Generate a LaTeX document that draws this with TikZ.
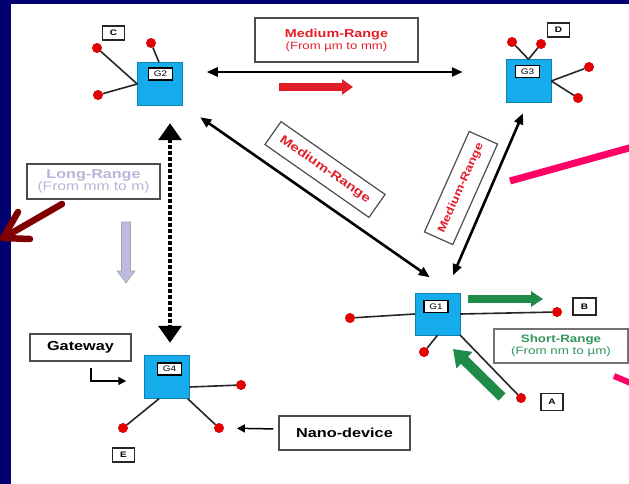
\documentclass[tikz,border=0pt]{standalone}
\usepackage{fontspec}
\setmainfont[FakeStretch=1.25]{Liberation Sans}
\usetikzlibrary{arrows.meta}

\definecolor{navy}{RGB}{0,0,112}
\definecolor{gboxc}{RGB}{22,172,236}
\definecolor{dotred}{RGB}{228,0,0}
\definecolor{txtred}{RGB}{226,30,40}
\definecolor{grn}{RGB}{30,140,72}
\definecolor{txtgrn}{RGB}{50,150,95}
\definecolor{pinkline}{RGB}{255,0,102}
\definecolor{dkred}{RGB}{128,0,0}
\definecolor{lavtxt}{RGB}{182,182,216}
\definecolor{lavfill}{RGB}{188,188,222}

\begin{document}
\begin{tikzpicture}[x=1pt,y=-1pt,
  gwbox/.style={draw=gboxc!75!black, line width=0.5pt, fill=gboxc, minimum width=45pt, minimum height=43pt, inner sep=0pt},
  glabel/.style={draw=black, line width=1.1pt, fill=white, minimum width=24pt, minimum height=12pt, inner sep=0pt, font=\fontsize{8}{8}\selectfont},
  lettbox/.style={draw=black!85, line width=1.3pt, fill=white, minimum width=22pt, minimum height=14pt, inner sep=0pt, font=\bfseries\fontsize{8}{8}\selectfont},
  nanodot/.style={circle, fill=dotred, draw=dotred!85!black, line width=0.3pt, minimum size=9.5pt, inner sep=0pt},
  wireline/.style={line width=1.6pt, black!85},
  medarrow/.style={line width=2.6pt, {Triangle[length=11pt,width=9pt]}-{Triangle[length=11pt,width=9pt]}},
  textbox/.style={draw=black!70, line width=1.2pt, fill=white, inner sep=0pt, align=center},
  smallarrow/.style={line width=1.5pt, -{Triangle[length=8pt,width=8pt]}},
]
% background
\fill[navy] (0,0) rectangle (629,484);
\fill[white] (11,4) rectangle (629,484);
\useasboundingbox (0,0) rectangle (629,484);

% gateways
\node[gwbox] (g2) at (160,84) {};
\node[gwbox] (g3) at (528.5,81) {};
\node[gwbox, minimum height=42pt] (g1) at (437.5,314) {};
\node[gwbox] (g4) at (167,377) {};

% nano-devices
\node[nanodot] (d21) at (97,48) {};
\node[nanodot] (d22) at (98,95) {};
\node[nanodot] (d23) at (151,43) {};
\node[nanodot] (d31) at (512,42) {};
\node[nanodot] (d32) at (541,44) {};
\node[nanodot] (d33) at (589,67) {};
\node[nanodot] (d34) at (578,98) {};
\node[nanodot] (d11) at (350,318) {};
\node[nanodot] (d12) at (557,312) {};
\node[nanodot] (d13) at (424,352) {};
\node[nanodot] (d14) at (521,398) {};
\node[nanodot] (d41) at (241,385) {};
\node[nanodot] (d42) at (123,428) {};
\node[nanodot] (d43) at (219,428) {};

\draw[wireline] (g2.west) -- (d21);
\draw[wireline] (g2.west) -- (d22);
\draw[wireline] ([xshift=-1pt]g2.north) -- (d23);
\draw[wireline] (g3.north) -- (d31);
\draw[wireline] (g3.north) -- (d32);
\draw[wireline] (g3.east) -- (d33);
\draw[wireline] (g3.east) -- (d34);
\draw[wireline] (g1.west) -- (d11);
\draw[wireline] (g1.east) -- (d12);
\draw[wireline] (g1.south) -- (d13);
\draw[wireline] (g1.south east) -- (d14);
\draw[wireline] ([yshift=-10pt]g4.east) -- (d41);
\draw[wireline] ([xshift=-8pt]g4.south) -- (d42);
\draw[wireline] ([xshift=-2pt]g4.south east) -- (d43);

% redraw dots on top of wires
\foreach \d in {d21,d22,d23,d31,d32,d33,d34,d11,d12,d13,d14,d41,d42,d43}
  \fill[dotred] (\d) circle (4.6pt);

% gateway labels
\node[glabel] (g2l) at (160.5,74) {G2};
\node[glabel] (g3l) at (527.5,71.5) {G3};
\node[glabel] (g1l) at (436,306.5) {G1};
\node[glabel] (g4l) at (169.5,369) {G4};

% letters
\node[lettbox] (lc) at (113.5,33) {C};
\node[lettbox] (ld) at (558.5,30) {D};
\node[lettbox, minimum height=17.5pt] (la) at (552,402) {A};
\node[lettbox, minimum height=17pt, minimum width=23pt] (lb) at (584.5,306.5) {B};
\node[lettbox] (le) at (123.5,455) {E};

% medium range connectors
\draw[medarrow, shorten <=24pt, shorten >=43pt] ([yshift=12pt]g2.east) -- ([yshift=9pt]g3.west);
\draw[medarrow] ([xshift=17.5pt,yshift=-11.5pt]g2.south east) -- ([xshift=15pt,yshift=15.5pt]g1.north west);
\draw[medarrow] ([xshift=-5.5pt,yshift=-10.5pt]g3.south) -- ([xshift=15.5pt,yshift=17.5pt]g1.north);

% long range dotted connector
\draw[line width=3.5pt, dash pattern=on 3.5pt off 2.5pt, {Triangle[length=17pt,width=23pt]}-{Triangle[length=17pt,width=23pt]}]
  ([xshift=10pt,yshift=-17.5pt]g2.south) -- ([xshift=3pt,yshift=12.5pt]g4.north);

% text boxes
\node[textbox, minimum width=163pt, minimum height=44pt, text=txtred] (medtop) at (336.5,40)
  {{\bfseries\fontsize{11.5}{13.5}\selectfont Medium-Range}\\{\fontsize{10.5}{13.5}\selectfont (From µm to mm)}};
\node[textbox, minimum width=127pt, minimum height=28pt, rotate=-35, text=txtred, font=\bfseries\fontsize{12}{12}\selectfont] (med1) at (325,169.5) {Medium-Range};
\node[textbox, minimum width=110pt, minimum height=31pt, rotate=66, text=txtred, font=\bfseries\fontsize{10.8}{10.8}\selectfont] (med2) at (461,188) {Medium-Range};
\node[textbox, draw=black!55, minimum width=134pt, minimum height=34pt, text=txtgrn] (short) at (561,346)
  {{\bfseries\fontsize{10.7}{13}\selectfont Short-Range}\\{\fontsize{10.7}{13}\selectfont (From nm to µm)}};
\node[textbox, minimum width=133pt, minimum height=35pt, text=lavtxt] (long) at (93.5,181.5)
  {{\bfseries\fontsize{12.9}{12.5}\selectfont Long-Range}\\{\fontsize{12.5}{12.5}\selectfont (From mm to m)}};
\node[textbox, minimum width=101pt, minimum height=27pt, font=\bfseries\fontsize{13}{13}\selectfont] (gateway) at (80.5,347.5) {Gateway};
\node[textbox, minimum width=131pt, minimum height=34pt, font=\bfseries\fontsize{13}{13}\selectfont] (nano) at (344.5,433) {Nano-device};

% pointer arrows
\coordinate (gwstart) at (91,368);
\draw[smallarrow] (gwstart) |- ([xshift=-18pt,yshift=-4pt]g4.west);
\draw[smallarrow, shorten <=5pt, shorten >=13pt] ([yshift=4pt]nano.west) -- (d43);

% block arrows
\draw[txtred, line width=8pt, -{Triangle[length=11pt,width=15pt]}] (279,87) -- (353,87);
\draw[grn, line width=8pt, -{Triangle[length=12pt,width=15pt]}] (468,299) -- (543,299);
\draw[grn, line width=10pt, -{Triangle[length=16pt,width=22pt]}] (502,397) -- (453,349);
\filldraw[fill=lavfill, draw=gray!70, line width=0.6pt]
  (121.5,222) -- (130.5,222) -- (130.5,271) -- (135,271) -- (126,283) -- (117,271) -- (121.5,271) -- cycle;

% annotation marks
\draw[pinkline, line width=7pt] (510,181) -- (640,145);
\draw[pinkline, line width=6pt] (614,376) -- (640,387);
\draw[dkred, line width=6.5pt, line cap=round, line join=round] (62,204) -- (3,238);
\draw[dkred, line width=6.5pt, line cap=round, line join=round] (18,212) -- (3,238) -- (30,239);
\end{tikzpicture}
\end{document}
